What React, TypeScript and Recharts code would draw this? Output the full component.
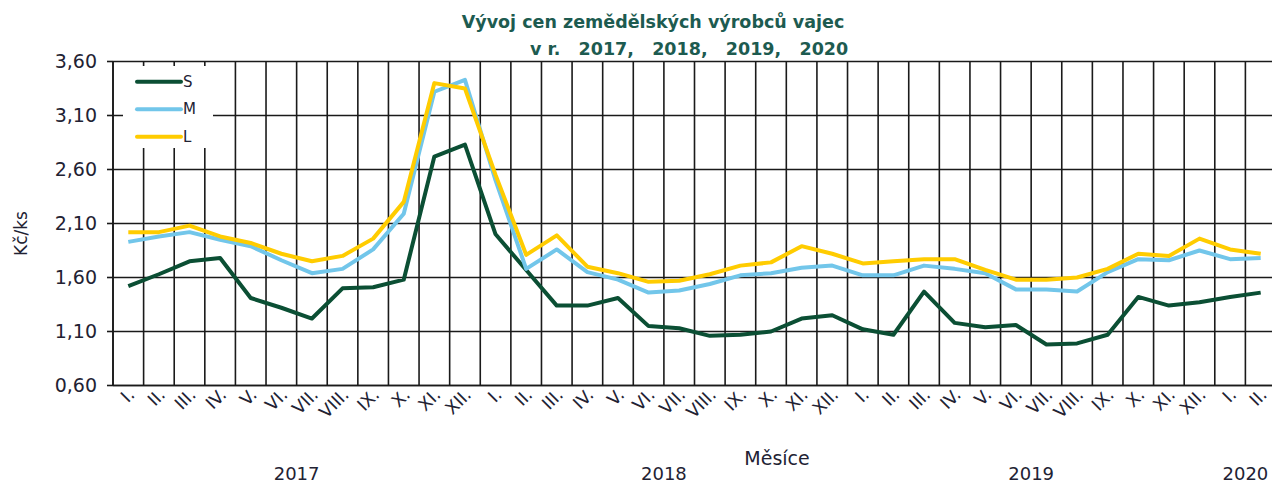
import React from 'react';
import { LineChart, Line, XAxis, YAxis, CartesianGrid, Legend } from 'recharts';

const months = [
  'I.', 'II.', 'III.', 'IV.', 'V.', 'VI.', 'VII.', 'VIII.', 'IX.', 'X.', 'XI.', 'XII.',
  'I.', 'II.', 'III.', 'IV.', 'V.', 'VI.', 'VII.', 'VIII.', 'IX.', 'X.', 'XI.', 'XII.',
  'I.', 'II.', 'III.', 'IV.', 'V.', 'VI.', 'VII.', 'VIII.', 'IX.', 'X.', 'XI.', 'XII.',
  'I.', 'II.',
];
const years = [
  2017, 2017, 2017, 2017, 2017, 2017, 2017, 2017, 2017, 2017, 2017, 2017,
  2018, 2018, 2018, 2018, 2018, 2018, 2018, 2018, 2018, 2018, 2018, 2018,
  2019, 2019, 2019, 2019, 2019, 2019, 2019, 2019, 2019, 2019, 2019, 2019,
  2020, 2020,
];
const seriesS = [1.52, 1.63, 1.75, 1.78, 1.41, 1.32, 1.22, 1.50, 1.51, 1.58, 2.72, 2.83,
  2.00, 1.67, 1.34, 1.34, 1.41, 1.15, 1.13, 1.06, 1.07, 1.10, 1.22, 1.25,
  1.12, 1.07, 1.47, 1.18, 1.14, 1.16, 0.98, 0.99, 1.07, 1.42, 1.34, 1.37,
  1.42, 1.46];
const seriesM = [1.93, 1.98, 2.02, 1.95, 1.89, 1.76, 1.64, 1.68, 1.86, 2.19, 3.32, 3.43,
  2.50, 1.68, 1.86, 1.65, 1.58, 1.46, 1.48, 1.54, 1.62, 1.64, 1.69, 1.71,
  1.62, 1.62, 1.71, 1.68, 1.64, 1.49, 1.49, 1.47, 1.65, 1.77, 1.76, 1.85,
  1.77, 1.78];
const seriesL = [2.02, 2.02, 2.08, 1.98, 1.92, 1.82, 1.75, 1.80, 1.96, 2.30, 3.40, 3.35,
  2.55, 1.81, 1.99, 1.70, 1.64, 1.56, 1.57, 1.63, 1.71, 1.74, 1.89, 1.82,
  1.73, 1.75, 1.77, 1.77, 1.67, 1.58, 1.58, 1.60, 1.68, 1.82, 1.80, 1.96,
  1.86, 1.82];
const seriesNames = ['S', 'M', 'L'];
const majorTicks = [0.6, 1.1, 1.6, 2.1, 2.6, 3.1, 3.6];
const minorTicks = [0.6, 0.8, 1.0, 1.2, 1.4, 1.6, 1.8, 2.0, 2.2, 2.4, 2.6, 2.8, 3.0, 3.2, 3.4, 3.6];

const N = months.length;
const data = months.map((m, i) => ({
  key: `${m} ${years[i]}`,
  S: seriesS[i],
  M: seriesM[i],
  L: seriesL[i],
}));

// year groups: center expressed in band units (band k spans [k, k+1])
const yearGroups: { year: number; center: number }[] = [];
{
  let start = 0;
  for (let i = 1; i <= N; i++) {
    if (i === N || years[i] !== years[start]) {
      yearGroups.push({ year: years[start], center: (start + i) / 2 });
      start = i;
    }
  }
}

const FONT = '"DejaVu Sans", Verdana, sans-serif';
const TEXT = '#222233';
const COLORS: Record<string, string> = { S: '#0b4f34', M: '#72c6ea', L: '#ffcc00' };

const MonthTick = (props: any) => {
  const { x, y, payload } = props;
  const idx = payload && payload.index != null ? payload.index : props.index;
  const band = (props.width || 1163) / N;
  const groups = yearGroups.filter((g) => Math.floor(g.center - 0.5) === idx);
  return (
    <g>
      <g transform={`translate(${x + 3},${y - 2})`}>
        <text textAnchor="end" transform="rotate(-45)" dy="0.35em" fontSize={17.5} fill={TEXT} fontFamily={FONT}>
          {months[idx]}
        </text>
      </g>
      {groups.map((g) => (
        <text key={g.year} x={x + (g.center - idx - 0.5) * band} y={y + 86} textAnchor="middle"
          fontSize={18} fill={TEXT} fontFamily={FONT}>
          {g.year}
        </text>
      ))}
    </g>
  );
};

const renderLegend = (props: any) => {
  const payload = [...(props.payload || [])].sort(
    (a: any, b: any) => seriesNames.indexOf(a.value) - seriesNames.indexOf(b.value)
  );
  return (
    <svg width={90} height={82} style={{ display: 'block', background: '#fff' }}>
      {payload.map((p: any, i: number) => {
        const cy = 15.7 + i * 27.5;
        return (
          <g key={i}>
            <line x1={14} x2={58} y1={cy} y2={cy} stroke={p.color} strokeWidth={4} strokeLinecap="round" />
            <text x={60} y={cy} dominantBaseline="central" fontSize={15} fill={TEXT} fontFamily={FONT}>
              {p.value}
            </text>
          </g>
        );
      })}
    </svg>
  );
};

const YLabel = (props: any) => {
  const vb = props.viewBox || { x: 0, y: 0, width: 0, height: 0 };
  const cx = vb.x + 20.5;
  const cy = vb.y + vb.height / 2 + 10;
  return (
    <text x={cx} y={cy} transform={`rotate(-90, ${cx}, ${cy})`} textAnchor="middle" dominantBaseline="central"
      fontSize={17} fill={TEXT} fontFamily={FONT}>
      Kč/ks
    </text>
  );
};

const XLabel = (props: any) => {
  const vb = props.viewBox || { x: 0, y: 0, width: 0, height: 0 };
  return (
    <text x={vb.x + vb.width * 0.571} y={vb.y + 79} textAnchor="middle" fontSize={19} fill={TEXT} fontFamily={FONT}>
      Měsíce
    </text>
  );
};

const bandBoundaries = ({ offset }: any) =>
  Array.from({ length: N + 1 }, (_, i) => offset.left + (i * offset.width) / N);

export default function App() {
  return (
    <div style={{ position: 'absolute', left: 0, top: 0, width: 1272, height: 482, overflow: 'hidden', background: '#fff', fontFamily: FONT }}>
      <LineChart width={1280} height={482} data={data} margin={{ top: 61.5, right: 4, bottom: 0, left: 0 }}>
        <CartesianGrid yAxisId="minor" vertical={false} stroke="#b3c5ee" strokeDasharray="4 3" />
        <CartesianGrid yAxisId="v" stroke="#1a1a1a" strokeWidth={1.6} verticalCoordinatesGenerator={bandBoundaries} />
        <XAxis dataKey="key" type="category" scale="band" interval={0} height={96.5}
          tick={<MonthTick />} tickLine={false} axisLine={{ stroke: '#1a1a1a', strokeWidth: 1.6 }}
          label={XLabel} />
        <YAxis yAxisId="v" type="number" domain={[0.6, 3.6]} ticks={majorTicks} interval={0} width={113}
          tickSize={6} tickMargin={10} allowDataOverflow
          tickFormatter={(v: number) => v.toFixed(2).replace('.', ',')}
          tick={{ fontSize: 19, fill: TEXT, fontFamily: FONT }}
          axisLine={{ stroke: '#1a1a1a', strokeWidth: 1.6 }} tickLine={{ stroke: '#1a1a1a', strokeWidth: 1.6 }}
          label={YLabel} />
        <YAxis yAxisId="minor" type="number" domain={[0.6, 3.6]} ticks={minorTicks} hide width={0} />
        {seriesNames.map((s) => (
          <Line key={s} yAxisId="v" dataKey={s} name={s} stroke={COLORS[s]} strokeWidth={4}
            dot={false} isAnimationActive={false} strokeLinejoin="round" />
        ))}
        <Legend layout="vertical" align="center" verticalAlign="middle" width={90} height={82}
          wrapperStyle={{ left: 123, top: 66, width: 90, height: 82, background: '#fff' }}
          content={renderLegend} />
      </LineChart>
      <svg width={1272} height={60} style={{ position: 'absolute', left: 0, top: 0, pointerEvents: 'none' }}>
        <text x={653} y={28} textAnchor="middle" fontSize={17.5} fontWeight="bold" fill="#1d5b50" fontFamily={FONT}>
          Vývoj cen zemědělských výrobců vajec
        </text>
        <text x={530} y={55} textAnchor="start" fontSize={17.5} fontWeight="bold" fill="#1d5b50" fontFamily={FONT}
          xmlSpace="preserve" style={{ whiteSpace: 'pre' }}>
          {'v r.   2017,   2018,   2019,   2020'}
        </text>
      </svg>
    </div>
  );
}
